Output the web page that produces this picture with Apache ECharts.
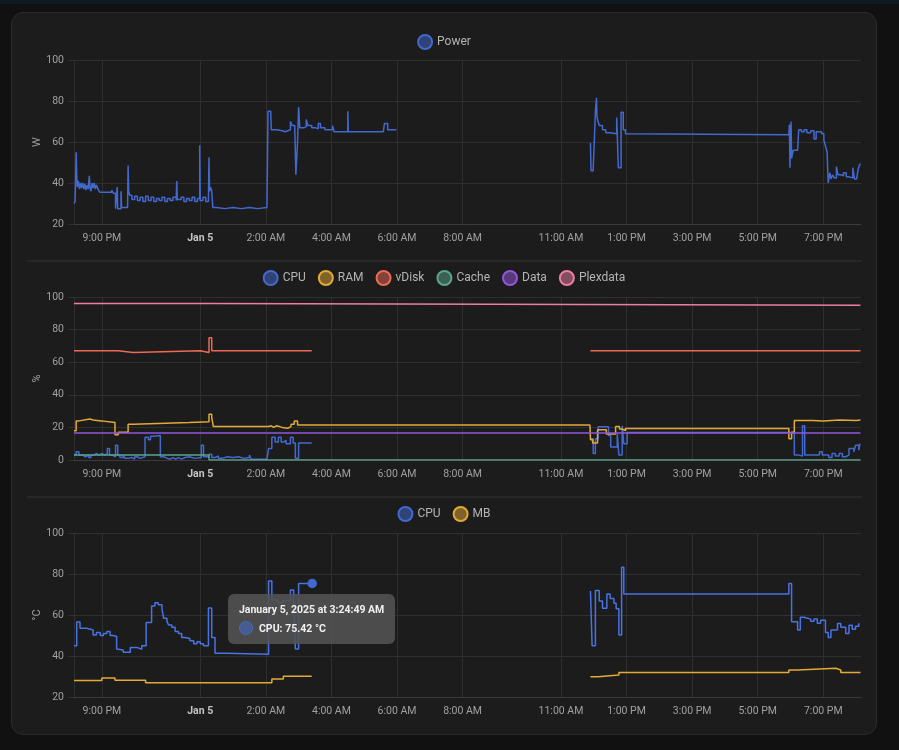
<!DOCTYPE html>
<html>
<head>
<meta charset="utf-8">
<script src="https://cdn.jsdelivr.net/npm/echarts@6/dist/echarts.min.js"></script>
<style>
html, body { margin: 0; padding: 0; background: #111111; width: 899px; height: 750px; overflow: hidden; font-family: Roboto, sans-serif; }
#topbar { position: absolute; left: 0; top: 0; width: 899px; height: 4px; background: #0f1b23; }
#card { position: absolute; left: 11px; top: 12px; width: 864px; height: 721px; background: #1c1c1c; border: 1px solid #2b2b2b; border-radius: 12px; }
#chart { position: absolute; left: 12px; top: 13px; width: 864px; height: 721px; }
</style>
</head>
<body>
<div id="topbar"></div>
<div id="card"></div>
<div id="chart"></div>
<script>
// time window and tick labels
var rangeStart = '04 20:09'
var rangeEnd = '05 20:09'
var xTicks = ['04 21:00', '05 00:00', '05 02:00', '05 04:00', '05 06:00', '05 08:00',
  '05 11:00', '05 13:00', '05 15:00', '05 17:00', '05 19:00']

// Power (W)
var powerW = [
  ['04 20:09', 30], ['04 20:11', 31], ['04 20:13', 55], ['04 20:14', 44], ['04 20:15', 38],
  ['04 20:17', 41], ['04 20:19', 37], ['04 20:21', 40], ['04 20:23', 37.5], ['04 20:25', 40],
  ['04 20:27', 37], ['04 20:29', 39.5], ['04 20:31', 36.5], ['04 20:33', 39], ['04 20:35', 37],
  ['04 20:37', 43.5], ['04 20:38', 38], ['04 20:40', 36], ['04 20:42', 40], ['04 20:44', 37.5],
  ['04 20:46', 40], ['04 20:48', 37], ['04 20:50', 39], ['04 20:53', 37], ['04 20:56', 35.5],
  ['04 21:18', 36.5], ['04 21:21', 35], ['04 21:25', 27.5], ['04 21:28', 38], ['04 21:29', 27.5],
  ['04 21:35', 36], ['04 21:36', 28], ['04 21:47', 28.5], ['04 21:48', 48.5], ['04 21:49', 36],
  ['04 21:51', 34], ['04 21:55', 32], ['04 22:00', 33.5], ['04 22:05', 31.5], ['04 22:10', 33],
  ['04 22:15', 31], ['04 22:20', 33.5], ['04 22:25', 31.5], ['04 22:30', 33], ['04 22:35', 31],
  ['04 22:40', 32.5], ['04 22:45', 31.5], ['04 22:50', 33], ['04 22:55', 31], ['04 23:00', 32.5],
  ['04 23:05', 31.5], ['04 23:10', 33], ['04 23:16', 31.5], ['04 23:17', 41], ['04 23:18', 32],
  ['04 23:25', 33], ['04 23:30', 31], ['04 23:35', 32.5], ['04 23:40', 31.5], ['04 23:45', 33],
  ['04 23:50', 31], ['04 23:55', 32.5], ['04 23:59', 58.4], ['05 00:00', 31.5], ['05 00:05', 33],
  ['05 00:10', 31], ['05 00:15', 32], ['05 00:16', 52.5], ['05 00:17', 36], ['05 00:19', 38],
  ['05 00:21', 36], ['05 00:23', 28], ['05 00:30', 27.5], ['05 00:45', 28], ['05 01:00', 27.5],
  ['05 01:15', 28], ['05 01:30', 27.5], ['05 01:45', 28], ['05 02:02', 27.5], ['05 02:04', 75],
  ['05 02:09', 74], ['05 02:10', 66], ['05 02:20', 65.5], ['05 02:30', 65], ['05 02:35', 65.5],
  ['05 02:40', 66], ['05 02:45', 70], ['05 02:48', 68], ['05 02:53', 66], ['05 02:55', 44],
  ['05 02:58', 60], ['05 03:00', 77], ['05 03:02', 67], ['05 03:10', 67.5], ['05 03:14', 71],
  ['05 03:17', 68], ['05 03:24', 67], ['05 03:30', 66.5], ['05 03:36', 69], ['05 03:40', 67],
  ['05 03:48', 66], ['05 04:02', 68], ['05 04:05', 65], ['05 04:30', 75], ['05 04:31', 65],
  ['05 05:35', 65], ['05 05:37', 69], ['05 05:43', 66], ['05 05:59', 66],
  ['05 06:00', null],
  ['05 11:54', 59.5], ['05 11:55', 46], ['05 11:59', 47], ['05 12:01', 60], ['05 12:03', 75],
  ['05 12:05', 81.5], ['05 12:06', 72], ['05 12:08', 70], ['05 12:10', 68], ['05 12:16', 66],
  ['05 12:22', 64.5], ['05 12:30', 64], ['05 12:42', 72], ['05 12:45', 47.5], ['05 12:50', 74.5],
  ['05 12:54', 66], ['05 12:58', 64], ['05 13:01', 63.5], ['05 17:57', 63.5], ['05 17:58', 68.5],
  ['05 17:59', 47.5], ['05 18:01', 70], ['05 18:02', 52], ['05 18:05', 56], ['05 18:13', 56],
  ['05 18:15', 66], ['05 18:20', 65], ['05 18:25', 66], ['05 18:30', 64.5], ['05 18:37', 65.5],
  ['05 18:43', 61.5], ['05 18:47', 65], ['05 18:57', 64], ['05 19:01', 61], ['05 19:04', 58],
  ['05 19:07', 55], ['05 19:09', 40], ['05 19:12', 45], ['05 19:14', 42], ['05 19:17', 44],
  ['05 19:20', 42.5], ['05 19:24', 48], ['05 19:27', 44], ['05 19:32', 43.5], ['05 19:37', 45],
  ['05 19:42', 43], ['05 19:46', 42.5], ['05 19:54', 47.5], ['05 19:57', 42], ['05 20:01', 42],
  ['05 20:04', 47], ['05 20:06', 48.5], ['05 20:08', 49.5]
]

// Load (%)
var cpuLoad = [
  ['04 20:09', 3], ['04 20:13', 5], ['04 20:18', 3], ['04 20:25', 2], ['04 20:30', 3],
  ['04 20:36', 1.5], ['04 20:40', 3], ['04 20:45', 4], ['04 20:50', 3], ['04 20:55', 4],
  ['04 21:00', 3], ['04 21:05', 4], ['04 21:10', 7], ['04 21:14', 3], ['04 21:19', 2],
  ['04 21:25', 9], ['04 21:29', 3], ['04 21:33', 1.5], ['04 21:39', 3], ['04 21:42', 1],
  ['04 21:48', 1.5], ['04 21:55', 0.5], ['04 22:00', 2], ['04 22:05', 1], ['04 22:10', 2],
  ['04 22:19', 14], ['04 22:25', 12.5], ['04 22:29', 14.5], ['04 22:35', 15], ['04 22:47', 2],
  ['04 22:53', 1], ['04 23:00', 0.5], ['04 23:05', 1.5], ['04 23:10', 0.5], ['04 23:15', 1.5],
  ['04 23:20', 0.5], ['04 23:26', 1.5], ['04 23:32', 2], ['04 23:40', 1], ['04 23:50', 1.5],
  ['05 00:02', 9], ['05 00:06', 2], ['05 00:16', 3.5], ['05 00:21', 1.5], ['05 00:27', 2.5],
  ['05 00:33', 1], ['05 00:40', 2], ['05 00:50', 1.5], ['05 01:00', 2], ['05 01:10', 1],
  ['05 01:20', 1.5], ['05 01:30', 3], ['05 01:33', 0.5], ['05 02:02', 1.5], ['05 02:05', 7],
  ['05 02:11', 14], ['05 02:17', 11], ['05 02:23', 14], ['05 02:28', 11], ['05 02:32', 12],
  ['05 02:37', 10], ['05 02:45', 14], ['05 02:50', 10.5], ['05 02:54', 1], ['05 03:00', 10.5],
  ['05 03:24', 10.5],
  ['05 03:25', null],
  ['05 11:54', 13], ['05 11:59', 4], ['05 12:03', 13], ['05 12:08', 20.4], ['05 12:27', 15],
  ['05 12:31', 8], ['05 12:43', 16], ['05 12:46', 3], ['05 12:52', 21], ['05 12:55', 10],
  ['05 13:01', 16.8], ['05 18:07', 3], ['05 18:15', 2.5], ['05 18:22', 21], ['05 18:26', 3],
  ['05 18:53', 5], ['05 18:58', 3], ['05 19:10', 1.5], ['05 19:16', 4], ['05 19:22', 2.5],
  ['05 19:29', 4], ['05 19:35', 2], ['05 19:41', 3], ['05 19:47', 7], ['05 19:56', 5],
  ['05 19:59', 9], ['05 20:05', 6], ['05 20:07', 10], ['05 20:08', 10]
]
var ramLoad = [
  ['04 20:09', 18], ['04 20:13', 24], ['04 20:18', 25.2], ['04 20:38', 24.5], ['04 20:44', 24],
  ['04 20:59', 23], ['04 21:24', 15.5], ['04 21:30', 17], ['04 21:48', 22], ['04 21:58', 23],
  ['04 23:40', 23.5], ['05 00:16', 28], ['05 00:21', 26], ['05 00:24', 20.5], ['05 02:05', 21],
  ['05 02:10', 20], ['05 02:14', 21], ['05 02:20', 20], ['05 02:30', 19.5], ['05 02:40', 20.5],
  ['05 02:46', 22], ['05 02:52', 24], ['05 02:58', 21.5], ['05 11:53', 21.5], ['05 11:54', 12.5],
  ['05 11:58', 10.5], ['05 12:07', 18.5], ['05 12:23', 16], ['05 12:40', 20.5], ['05 12:47', 19],
  ['05 12:52', 18], ['05 12:58', 19.4], ['05 17:57', 13], ['05 18:02', 17], ['05 18:07', 24.3],
  ['05 18:40', 24], ['05 19:00', 24.5], ['05 19:30', 24.3], ['05 20:00', 24.6], ['05 20:08', 24.6]
]
var vdiskLoad = [
  ['04 20:09', 67], ['04 21:24', 66], ['04 21:27', 67], ['04 21:30', 66], ['04 21:57', 67],
  ['05 00:00', 66], ['05 00:16', 75], ['05 00:21', 67], ['05 03:24', 67],
  ['05 03:25', null],
  ['05 11:54', 67], ['05 20:08', 67]
]
var cacheLoad = [['04 20:09', 3], ['05 00:16', 0], ['05 20:08', 0]]
var dataLoad = [['04 20:09', 16.5], ['05 20:08', 16.5]]
var plexdataLoad = [['04 20:09', 96], ['05 00:16', 95], ['05 20:08', 95]]

// Temperature (°C)
var cpuTemp = [
  ['04 20:09', 45], ['04 20:14', 56.6], ['04 20:20', 53.5], ['04 20:32', 52.7], ['04 20:44', 50.2],
  ['04 20:50', 51.5], ['04 20:57', 50], ['04 21:03', 51], ['04 21:09', 52], ['04 21:15', 50],
  ['04 21:21', 49.5], ['04 21:27', 43.4], ['04 21:30', 42.9], ['04 21:39', 41.8], ['04 21:52', 44.2],
  ['04 22:04', 43.3], ['04 22:13', 45], ['04 22:21', 56.3], ['04 22:31', 64.4], ['04 22:37', 66],
  ['04 22:43', 65], ['04 22:50', 63], ['04 22:53', 58.4], ['04 22:59', 57], ['04 23:02', 55.1],
  ['04 23:08', 54], ['04 23:14', 52], ['04 23:20', 51], ['04 23:26', 49], ['04 23:32', 48.5],
  ['04 23:41', 47.5], ['04 23:48', 46], ['04 23:54', 47], ['05 00:00', 46], ['05 00:06', 45],
  ['05 00:15', 63.4], ['05 00:21', 49], ['05 00:27', 41.3], ['05 00:49', 40.8], ['05 02:05', 76.6],
  ['05 02:11', 67.3], ['05 02:23', 66], ['05 02:32', 67], ['05 02:45', 72.2], ['05 02:51', 67],
  ['05 02:54', 43.4], ['05 03:00', 75.42], ['05 03:24:49', 75.42],
  ['05 03:25', null],
  ['05 11:54', 71.7], ['05 11:57', 45], ['05 12:03', 72], ['05 12:10', 66.8], ['05 12:16', 63.3],
  ['05 12:24', 70.2], ['05 12:30', 68], ['05 12:37', 65.7], ['05 12:41', 63], ['05 12:46', 50.2],
  ['05 12:51', 83.3], ['05 12:55', 70.2], ['05 17:57', 75.4], ['05 18:02', 56.7], ['05 18:13', 52.7],
  ['05 18:18', 58.9], ['05 18:25', 58], ['05 18:37', 57], ['05 18:43', 58], ['05 18:49', 56],
  ['05 18:55', 57.5], ['05 19:04', 51.5], ['05 19:09', 49], ['05 19:14', 52.7], ['05 19:26', 55.9],
  ['05 19:32', 54], ['05 19:41', 51], ['05 19:47', 55], ['05 19:53', 53], ['05 19:59', 54.5],
  ['05 20:05', 56], ['05 20:08', 56]
]
var mbTemp = [
  ['04 20:09', 28.1], ['04 21:00', 29.3], ['04 21:24', 28.2], ['04 22:20', 27], ['05 02:11', 28.8],
  ['05 02:32', 30.1], ['05 03:24', 30.1],
  ['05 03:25', null],
  ['05 11:54', 29.9], ['05 12:08', 30.7], ['05 12:46', 32], ['05 17:57', 33.2], ['05 18:13', 34],
  ['05 19:23', 33.2], ['05 19:32', 32], ['05 20:08', 32]
]

var hoverAt = '05 03:24:49'

var BLUE = '#4269d0', YELLOW = '#e2aa36', RED = '#ec6a55', TEAL = '#5aa58e', PURPLE = '#9156dc', PINK = '#ec7ea4'
var GRID = '#2f2f2f', LABEL = '#a0a0a0'
var MONTHS = ['January', 'February', 'March', 'April', 'May', 'June', 'July', 'August', 'September', 'October', 'November', 'December']

// '05 03:24:49' -> timestamp (local time, Jan 2025)
function ts(s) {
  var d = parseInt(s.slice(0, 2), 10)
  var p = s.slice(3).split(':')
  return new Date(2025, 0, d, +p[0], +p[1], p[2] ? +p[2] : 0).getTime()
}
function toSeries(rows) {
  return rows.map(function (r) { return [ts(r[0]), r[1]] })
}
function alpha(hex, a) {
  var n = parseInt(hex.slice(1), 16)
  return 'rgba(' + (n >> 16) + ',' + ((n >> 8) & 255) + ',' + (n & 255) + ',' + a + ')'
}
function lineSeries(name, color, rows, idx) {
  return {
    name: name,
    type: 'line',
    xAxisIndex: idx,
    yAxisIndex: idx,
    step: 'end',
    showSymbol: false,
    symbol: 'circle',
    symbolSize: 8,
    connectNulls: false,
    data: toSeries(rows),
    lineStyle: { color: color, width: 1.5 },
    itemStyle: { color: alpha(color, 0.5), borderColor: color, borderWidth: 1.5 },
    emphasis: { scale: false, lineStyle: { width: 1.5 }, itemStyle: { color: color, borderColor: color } }
  }
}
function tickLabel(v) {
  var d = new Date(v)
  var h = d.getHours()
  if (h === 0) return '{b|Jan ' + d.getDate() + '}'
  return ((h % 12) || 12) + ':00 ' + (h < 12 ? 'AM' : 'PM')
}
// plain value axis holding timestamps, so the irregular tick list can be used as is
function makeX(idx) {
  return {
    type: 'value',
    gridIndex: idx,
    min: ts(rangeStart),
    max: ts(rangeEnd),
    axisLine: { lineStyle: { color: '#3a3a3a' } },
    axisTick: { show: false, customValues: xTicks.map(ts) },
    axisLabel: {
      customValues: xTicks.map(ts),
      formatter: tickLabel,
      color: LABEL,
      fontSize: 10.5,
      margin: 9,
      fontFamily: 'Roboto',
      rich: { b: { fontWeight: 'bold', color: '#c4c4c4', fontSize: 10.5, fontFamily: 'Roboto' } }
    },
    splitLine: { show: true, lineStyle: { color: GRID } }
  }
}
function makeY(idx, name, min) {
  return {
    type: 'value',
    gridIndex: idx,
    min: min,
    max: 100,
    interval: 20,
    name: name,
    nameLocation: 'middle',
    nameGap: 31,
    nameMoveOverlap: false,
    nameTextStyle: { color: LABEL, fontSize: 11, fontFamily: 'Roboto' },
    axisLine: { show: true, lineStyle: { color: GRID } },
    axisTick: { show: true, length: 6, lineStyle: { color: GRID } },
    axisLabel: { color: LABEL, fontSize: 10.5, margin: 10, fontFamily: 'Roboto' },
    splitLine: { lineStyle: { color: GRID } }
  }
}
function makeLegend(top, names) {
  return {
    top: top,
    left: 'center',
    icon: 'circle',
    itemWidth: 14,
    itemHeight: 14,
    itemGap: 12,
    textStyle: { color: '#b4b4b4', fontSize: 12, fontFamily: 'Roboto' },
    data: names
  }
}
function fmtDate(v) {
  var d = new Date(v)
  var h = d.getHours()
  var pad = function (n) { return (n < 10 ? '0' : '') + n }
  return MONTHS[d.getMonth()] + ' ' + d.getDate() + ', ' + d.getFullYear() + ' at ' +
    ((h % 12) || 12) + ':' + pad(d.getMinutes()) + ':' + pad(d.getSeconds()) + ' ' + (h < 12 ? 'AM' : 'PM')
}

var units = ['W', '%', '°C']
var chart = echarts.init(document.getElementById('chart'))
var option = {
  animation: false,
  textStyle: { fontFamily: 'Roboto' },
  grid: [
    { left: 62, right: 15, top: 47, height: 164 },
    { left: 62, right: 15, top: 284, height: 163 },
    { left: 62, right: 15, top: 520, height: 164 }
  ],
  legend: [
    makeLegend(16, ['Power']),
    makeLegend(252, ['CPU', 'RAM', 'vDisk', 'Cache', 'Data', 'Plexdata']),
    makeLegend(488, ['CPU', 'MB'])
  ],
  xAxis: [makeX(0), makeX(1), makeX(2)],
  yAxis: [makeY(0, units[0], 20), makeY(1, units[1], 0), makeY(2, units[2], 20)],
  graphic: [
    { type: 'line', shape: { x1: 15, y1: 248, x2: 850, y2: 248 }, style: { stroke: '#333333', lineWidth: 1 } },
    { type: 'line', shape: { x1: 15, y1: 484, x2: 850, y2: 484 }, style: { stroke: '#333333', lineWidth: 1 } }
  ],
  tooltip: {
    trigger: 'item',
    position: [216, 581],
    transitionDuration: 0,
    backgroundColor: 'rgba(82,82,82,0.9)',
    borderWidth: 0,
    padding: [9, 11],
    extraCssText: 'box-shadow:none;border-radius:6px;',
    formatter: function (p) {
      var unit = units[p.seriesIndex >= 7 ? 2 : (p.seriesIndex >= 1 ? 1 : 0)]
      return '<div style="font:bold 10.5px Roboto;color:#f0f0f0;line-height:14px">' + fmtDate(p.value[0]) + '</div>' +
        '<div style="display:flex;align-items:center;margin-top:4px;font:bold 10.5px Roboto;color:#f0f0f0">' +
        '<span style="display:inline-block;width:14px;height:14px;border-radius:50%;box-sizing:border-box;border:1.5px solid ' + BLUE +
        ';background:' + alpha(BLUE, 0.5) + ';margin-right:6px"></span>' +
        p.seriesName + ': ' + p.value[1] + ' ' + unit + '</div>'
    }
  },
  series: [
    lineSeries('Power', BLUE, powerW, 0),
    lineSeries('CPU', BLUE, cpuLoad, 1),
    lineSeries('RAM', YELLOW, ramLoad, 1),
    lineSeries('vDisk', RED, vdiskLoad, 1),
    lineSeries('Cache', TEAL, cacheLoad, 1),
    lineSeries('Data', PURPLE, dataLoad, 1),
    lineSeries('Plexdata', PINK, plexdataLoad, 1),
    lineSeries('CPU', BLUE, cpuTemp, 2),
    lineSeries('MB', YELLOW, mbTemp, 2)
  ]
}
chart.setOption(option)

var hoverIdx = cpuTemp.findIndex(function (r) { return r[0] === hoverAt })
chart.dispatchAction({ type: 'highlight', seriesIndex: 7, dataIndex: hoverIdx })
chart.dispatchAction({ type: 'showTip', seriesIndex: 7, dataIndex: hoverIdx })
</script>
</body>
</html>
